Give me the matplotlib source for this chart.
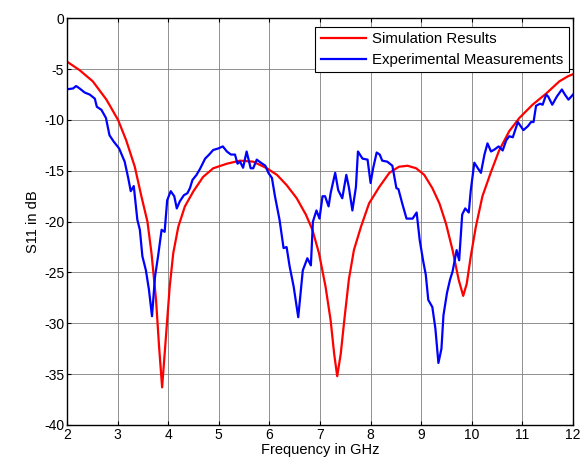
import matplotlib
matplotlib.use('Agg')
import matplotlib.pyplot as plt
import numpy as np

plt.rcParams['font.family'] = ['Liberation Sans', 'DejaVu Sans']
plt.rcParams['axes.unicode_minus'] = False

# simulation (red) curve
sim_f = [2.0, 2.25, 2.51, 2.78, 3.01, 3.17, 3.34, 3.47, 3.59, 3.67, 3.76, 3.82, 3.88,
         3.93, 3.98, 4.03, 4.10, 4.20, 4.33, 4.50, 4.69, 4.89, 5.16, 5.42, 5.68, 5.95,
         6.15, 6.34, 6.54, 6.72, 6.85, 6.98, 7.11, 7.21, 7.28, 7.34, 7.41, 7.48, 7.57,
         7.67, 7.81, 7.97, 8.17, 8.37, 8.56, 8.73, 8.90, 9.06, 9.22, 9.36, 9.49, 9.62,
         9.74, 9.83, 9.90, 9.98, 10.08, 10.21, 10.38, 10.54, 10.74, 10.94, 11.20, 11.47,
         11.73, 11.90, 12.0]
sim_db = [-4.26, -5.1, -6.2, -8.0, -10.0, -12.0, -14.6, -17.5, -20.0, -23.1, -27.7, -32.3, -36.3,
          -33.0, -29.7, -26.4, -23.1, -20.5, -18.5, -17.0, -15.6, -14.75, -14.3, -14.0, -14.1, -14.75,
          -15.4, -16.4, -17.7, -19.3, -20.8, -23.1, -26.4, -29.7, -33.0, -35.2, -33.0, -29.7, -25.7,
          -22.8, -20.5, -18.2, -16.6, -15.2, -14.6, -14.5, -14.75, -15.4, -16.7, -18.2, -20.2, -22.8,
          -25.7, -27.3, -26.1, -23.4, -20.5, -17.5, -15.1, -13.0, -11.1, -9.8, -8.5, -7.4,
          -6.2, -5.7, -5.5]

# measured (blue) curve
exp_f = [2.0, 2.12, 2.18, 2.25, 2.35, 2.45, 2.55, 2.59, 2.68, 2.77, 2.84, 2.92, 3.03, 3.14,
         3.21, 3.26, 3.32, 3.39, 3.44, 3.49, 3.56, 3.62, 3.68, 3.74, 3.80, 3.87, 3.93, 3.98,
         4.05, 4.12, 4.17, 4.23, 4.31, 4.38, 4.43, 4.48, 4.56, 4.63, 4.73, 4.81, 4.89, 4.99,
         5.08, 5.16, 5.24, 5.32, 5.37, 5.42, 5.48, 5.55, 5.63, 5.68, 5.75, 5.83, 5.92, 5.98,
         6.05, 6.11, 6.20, 6.28, 6.34, 6.40, 6.48, 6.57, 6.66, 6.75, 6.82, 6.86, 6.93, 6.99,
         7.05, 7.10, 7.17, 7.21, 7.30, 7.36, 7.44, 7.52, 7.57, 7.64, 7.71, 7.75, 7.84, 7.94,
         8.0, 8.05, 8.12, 8.18, 8.23, 8.33, 8.43, 8.51, 8.55, 8.63, 8.71, 8.83, 8.91, 8.97,
         9.04, 9.09, 9.14, 9.22, 9.28, 9.34, 9.40, 9.44, 9.51, 9.57, 9.62, 9.70, 9.75, 9.81,
         9.87, 9.94, 9.98, 10.05, 10.12, 10.18, 10.25, 10.31, 10.38, 10.45, 10.53, 10.61,
         10.68, 10.74, 10.81, 10.91, 11.02, 11.11, 11.17, 11.22, 11.27, 11.35, 11.40, 11.47,
         11.51, 11.59, 11.68, 11.78, 11.84, 11.91, 12.0]
exp_db = [-6.98, -6.9, -6.66, -6.9, -7.3, -7.5, -7.9, -8.7, -9.0, -9.8, -11.5, -12.1, -12.8, -14.1,
          -15.7, -17.0, -16.5, -19.8, -20.8, -23.4, -24.8, -26.7, -29.3, -25.4, -23.4, -20.8, -21.0, -17.9,
          -17.0, -17.5, -18.7, -18.0, -17.4, -17.2, -16.7, -15.9, -15.4, -14.8, -13.8, -13.4, -12.95, -12.8,
          -12.6, -13.1, -13.4, -13.4, -14.3, -14.1, -14.7, -13.1, -14.75, -14.75, -13.9, -14.2, -14.5, -15.2,
          -15.7, -17.5, -19.8, -22.6, -22.5, -24.4, -26.4, -29.4, -24.8, -23.6, -24.3, -20.0, -18.9, -19.7,
          -17.5, -17.5, -18.5, -17.2, -15.2, -16.9, -17.7, -15.4, -16.6, -18.9, -16.6, -13.1, -13.8, -13.9,
          -16.2, -14.75, -13.2, -13.4, -14.0, -14.1, -14.5, -16.7, -16.8, -18.3, -19.7, -19.7, -19.1, -21.8,
          -23.9, -25.2, -27.7, -28.4, -30.5, -33.9, -32.5, -29.2, -27.0, -25.7, -24.9, -22.8, -23.8, -19.3,
          -18.7, -19.1, -16.9, -14.2, -14.75, -15.2, -13.4, -12.3, -13.1, -12.9, -12.6, -13.0,
          -12.0, -11.6, -11.7, -10.2, -11.0, -10.6, -10.2, -10.2, -8.6, -8.4, -8.5, -7.5,
          -7.7, -8.5, -7.7, -7.0, -7.5, -8.0, -7.5]

fig = plt.figure(figsize=(5.85, 4.66), dpi=100)
ax = fig.add_axes([0.1145, 0.088, 0.865, 0.8727])

ax.plot(sim_f, sim_db, color='red', lw=1.6, label='Simulation Results')
ax.plot(exp_f, exp_db, color='blue', lw=1.6, label='Experimental Measurements')

ax.set_xlim(2, 12)
ax.set_ylim(-40, 0)
ax.set_xticks(range(2, 13))
ax.set_yticks(range(-40, 1, 5))
ax.grid(True, color='#7f7f7f', lw=0.6)
ax.tick_params(direction='in', top=True, right=True, labelsize=10, length=3, width=0.8, pad=2)
for sp in ax.spines.values():
    sp.set_linewidth(1.0)
ax.set_xlabel('Frequency in GHz', fontsize=10.5, labelpad=1)
ax.set_ylabel('S11 in dB', fontsize=10.5, labelpad=3)

leg = ax.legend(loc='upper right', bbox_to_anchor=(0.992, 0.979), fontsize=10.8,
                fancybox=False, framealpha=1, edgecolor='black', borderpad=0.35,
                labelspacing=0.45, handlelength=3.0, handletextpad=0.45, borderaxespad=0)
leg.get_frame().set_linewidth(0.8)

fig.savefig('out.png', dpi=100)
